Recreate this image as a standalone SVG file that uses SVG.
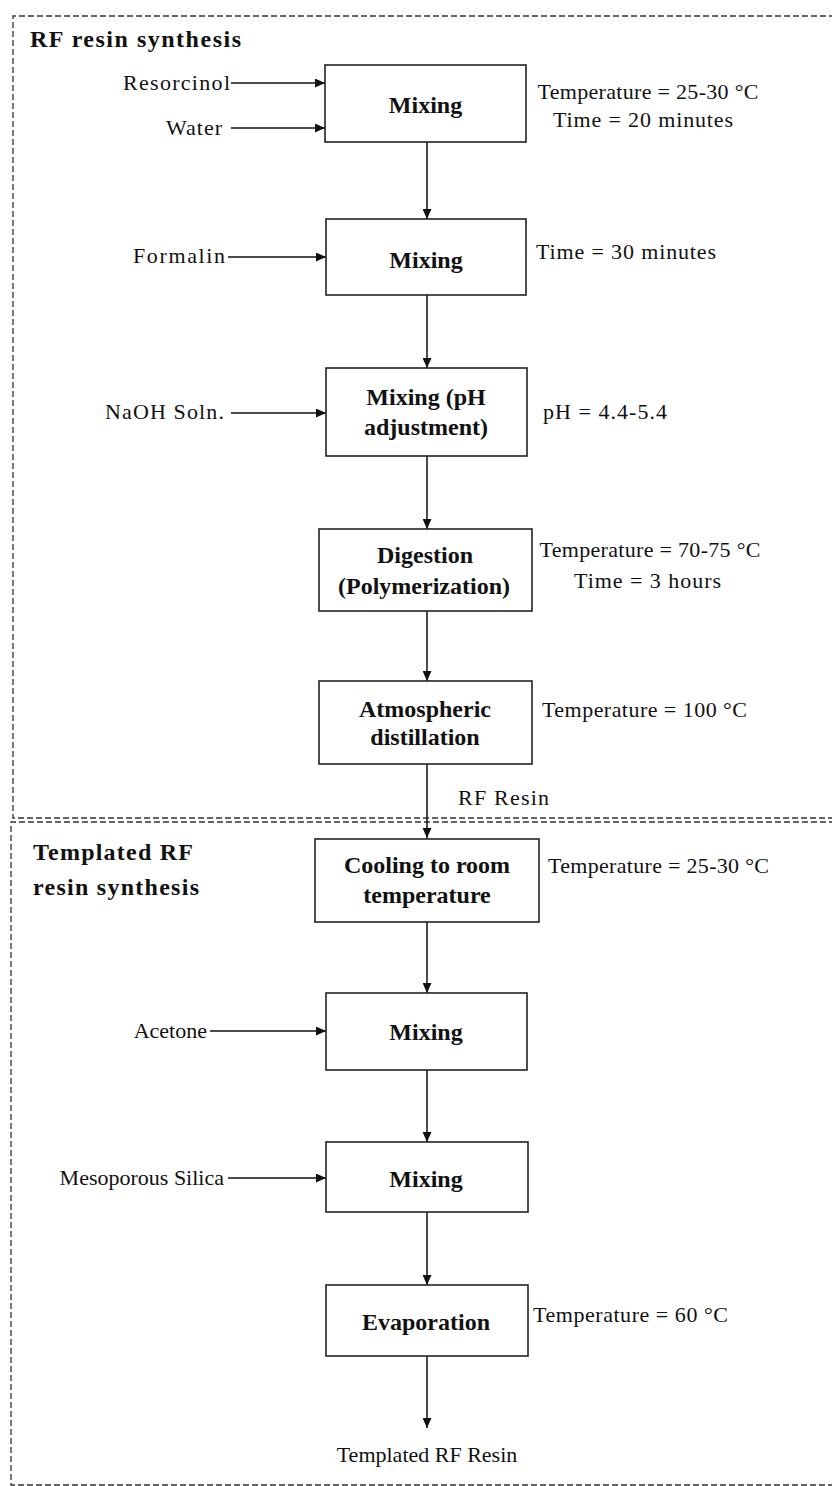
<svg xmlns="http://www.w3.org/2000/svg" width="832" height="1486" viewBox="0 0 832 1486">
<style>
.t{font-family:"Liberation Serif","Times New Roman",serif;font-size:22px;fill:#111}
.b{font-family:"Liberation Serif","Times New Roman",serif;font-size:24px;font-weight:bold;fill:#111}
.m{text-anchor:middle}
.e{text-anchor:end}
.box{fill:#fff;stroke:#222;stroke-width:1.6}
.ln{stroke:#111;stroke-width:1.5;fill:none}
.dash{stroke:#333;stroke-width:1.3;fill:none;stroke-dasharray:6 3}
</style>
<defs>
<marker id="ah" markerUnits="userSpaceOnUse" markerWidth="11" markerHeight="9" refX="10" refY="4.5" orient="auto">
<path d="M0,0 L10,4.5 L0,9 z" fill="#111"/>
</marker>
</defs>
<rect width="832" height="1486" fill="#fff"/>
<g id="sections">
<path class="dash" d="M880,16 H13 V818 H880"/>
<path class="dash" d="M880,822 H11 V1485 H880"/>
<text class="b" x="30" y="47" textLength="211" lengthAdjust="spacing">RF resin synthesis</text>
<text class="b" x="33" y="860" textLength="160" lengthAdjust="spacing">Templated RF</text>
<text class="b" x="33" y="895" textLength="166" lengthAdjust="spacing">resin synthesis</text>
</g>
<g id="connectors">
<line class="ln" x1="231" y1="83" x2="325" y2="83" marker-end="url(#ah)"/>
<line class="ln" x1="231" y1="128" x2="325" y2="128" marker-end="url(#ah)"/>
<line class="ln" x1="228" y1="257" x2="326" y2="257" marker-end="url(#ah)"/>
<line class="ln" x1="231" y1="413" x2="326" y2="413" marker-end="url(#ah)"/>
<line class="ln" x1="210" y1="1031" x2="326" y2="1031" marker-end="url(#ah)"/>
<line class="ln" x1="228" y1="1178" x2="326" y2="1178" marker-end="url(#ah)"/>
<line class="ln" x1="427" y1="142" x2="427" y2="219" marker-end="url(#ah)"/>
<line class="ln" x1="427" y1="295" x2="427" y2="368" marker-end="url(#ah)"/>
<line class="ln" x1="427" y1="456" x2="427" y2="529" marker-end="url(#ah)"/>
<line class="ln" x1="427" y1="611" x2="427" y2="681" marker-end="url(#ah)"/>
<line class="ln" x1="427" y1="764" x2="427" y2="838" marker-end="url(#ah)"/>
<line class="ln" x1="427" y1="922" x2="427" y2="993" marker-end="url(#ah)"/>
<line class="ln" x1="427" y1="1070" x2="427" y2="1142" marker-end="url(#ah)"/>
<line class="ln" x1="427" y1="1212" x2="427" y2="1285" marker-end="url(#ah)"/>
<line class="ln" x1="427" y1="1356" x2="427" y2="1428" marker-end="url(#ah)"/>
</g>
<g id="inputs">
<text class="t e" x="230" y="90" textLength="107" lengthAdjust="spacing">Resorcinol</text>
<text class="t e" x="222" y="135" textLength="56" lengthAdjust="spacing">Water</text>
<text class="t e" x="225" y="263" textLength="92" lengthAdjust="spacing">Formalin</text>
<text class="t e" x="224" y="419" textLength="119" lengthAdjust="spacing">NaOH Soln.</text>
<text class="t e" x="207" y="1038">Acetone</text>
<text class="t e" x="224" y="1185">Mesoporous Silica</text>
</g>
<g id="n1">
<rect class="box" x="325" y="65" width="201" height="77"/>
<text class="b m" x="425.5" y="113">Mixing</text>
<text class="t m" x="648" y="99" textLength="221" lengthAdjust="spacing">Temperature = 25-30 °C</text>
<text class="t m" x="643" y="127" textLength="180" lengthAdjust="spacing">Time = 20 minutes</text>
</g>
<g id="n2">
<rect class="box" x="326" y="219" width="200" height="76"/>
<text class="b m" x="426" y="268">Mixing</text>
<text class="t" x="536" y="259" textLength="180" lengthAdjust="spacing">Time = 30 minutes</text>
</g>
<g id="n3">
<rect class="box" x="326" y="368" width="201" height="88"/>
<text class="b m" x="426" y="405">Mixing (pH</text>
<text class="b m" x="426" y="435">adjustment)</text>
<text class="t" x="543" y="419" textLength="124" lengthAdjust="spacing">pH = 4.4-5.4</text>
</g>
<g id="n4">
<rect class="box" x="319" y="529" width="213" height="82"/>
<text class="b m" x="425" y="563">Digestion</text>
<text class="b m" x="424" y="594">(Polymerization)</text>
<text class="t m" x="650" y="557" textLength="221" lengthAdjust="spacing">Temperature = 70-75 °C</text>
<text class="t" x="574" y="588" textLength="147" lengthAdjust="spacing">Time = 3 hours</text>
</g>
<g id="n5">
<rect class="box" x="319" y="681" width="213" height="83"/>
<text class="b m" x="425" y="717">Atmospheric</text>
<text class="b m" x="425" y="745">distillation</text>
<text class="t" x="542" y="717" textLength="205" lengthAdjust="spacing">Temperature = 100 °C</text>
</g>
<g id="rf-resin">
<text class="t" x="458" y="805" textLength="91" lengthAdjust="spacing">RF Resin</text>
</g>
<g id="n6">
<rect class="box" x="315" y="839" width="224" height="83"/>
<text class="b m" x="427" y="873">Cooling to room</text>
<text class="b m" x="427" y="903">temperature</text>
<text class="t" x="548" y="873" textLength="221" lengthAdjust="spacing">Temperature = 25-30 °C</text>
</g>
<g id="n7">
<rect class="box" x="326" y="993" width="201" height="77"/>
<text class="b m" x="426" y="1040">Mixing</text>
</g>
<g id="n8">
<rect class="box" x="326" y="1142" width="202" height="70"/>
<text class="b m" x="426" y="1187">Mixing</text>
</g>
<g id="n9">
<rect class="box" x="326" y="1285" width="202" height="71"/>
<text class="b m" x="426" y="1330">Evaporation</text>
<text class="t" x="533" y="1322" textLength="195" lengthAdjust="spacing">Temperature = 60 °C</text>
</g>
<g id="output">
<text class="t m" x="427" y="1462">Templated RF Resin</text>
</g>
</svg>
